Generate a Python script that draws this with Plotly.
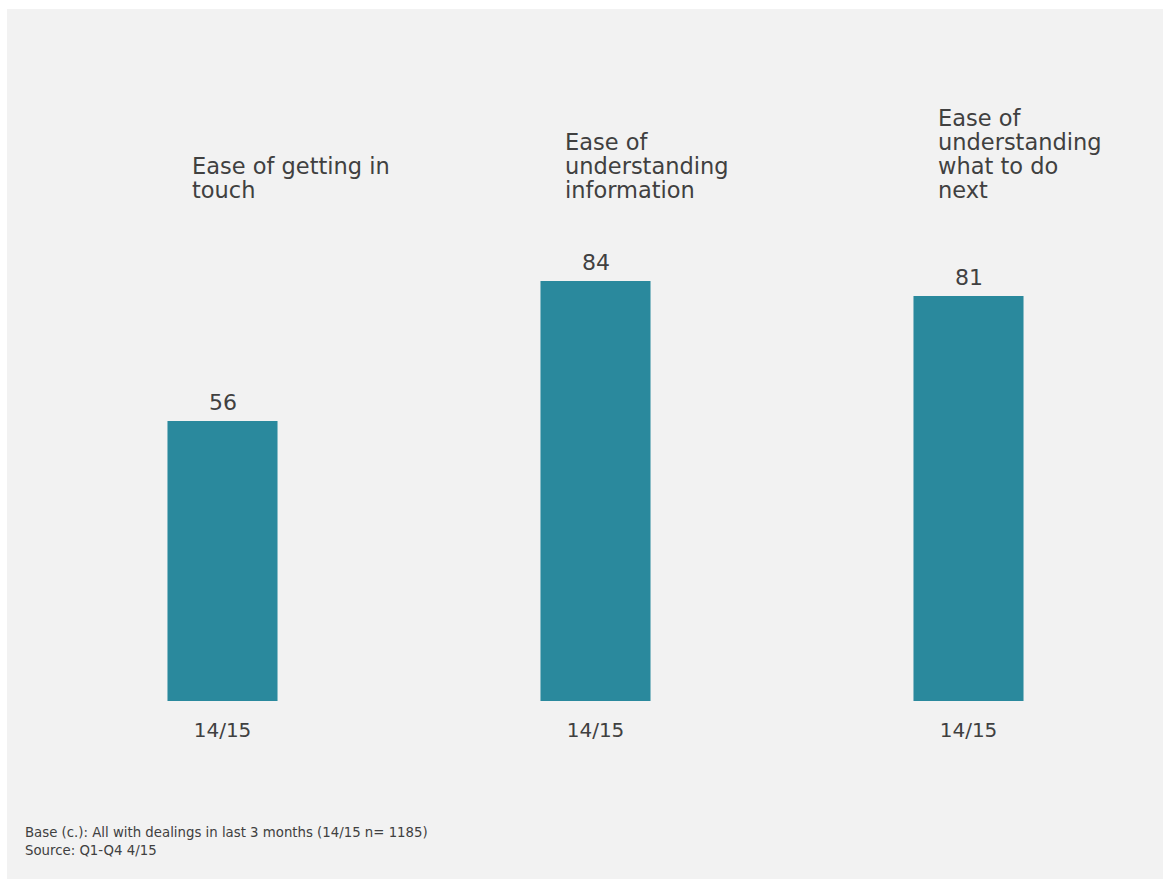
import plotly.graph_objects as go

# ---- data -------------------------------------------------------------
categories = [
    "Ease of getting in touch",
    "Ease of understanding information",
    "Ease of understanding what to do next",
]
title_lines = [
    ["Ease of getting in", "touch"],
    ["Ease of", "understanding", "information"],
    ["Ease of", "understanding", "what to do", "next"],
]
period_labels = ["14/15", "14/15", "14/15"]
scores = [56, 84, 81]
footnotes = [
    "Base (c.): All with dealings in last 3 months (14/15 n= 1185)",
    "Source: Q1-Q4 4/15",
]

# ---- layout constants --------------------------------------------------
W, H = 1163, 879
ML, MR, MT, MB = 36, 8, 101, 178
PW = W - ML - MR
PH = H - MT - MB
Y_MAX = 120

FONT = "DejaVu Sans"
TEXT = "#404040"
BAR = "#2A899D"
PANEL = "#F2F2F2"


def xp(px):
    """Pixel column -> paper x."""
    return (px - ML) / PW


def yp(py):
    """Pixel row -> paper y."""
    return (H - MB - py) / PH


xs = list(range(len(categories)))

fig = go.Figure(
    go.Bar(
        x=xs,
        y=scores,
        width=0.295,
        marker=dict(color=BAR, line=dict(width=0)),
        hovertext=categories,
        hoverinfo="text+y",
    )
)

annotations = []

# value labels above bars
for i, v in enumerate(scores):
    annotations.append(dict(
        x=i, y=v, xref="x", yref="y", text=str(v), showarrow=False,
        xanchor="center", yanchor="bottom", yshift=4,
        font=dict(family=FONT, size=22, color=TEXT),
    ))

# category titles, bottom-aligned, tight line spacing
LINE_GAP = 24
LAST_BASELINE = 199
for i, lines in enumerate(title_lines):
    n = len(lines)
    for k, line in enumerate(lines):
        baseline = LAST_BASELINE - (n - 1 - k) * LINE_GAP
        annotations.append(dict(
            x=i, y=yp(baseline + 6), xref="x", yref="paper", text=line,
            showarrow=False, xanchor="left", yanchor="bottom", xshift=-33,
            font=dict(family=FONT, size=22.5, color=TEXT),
        ))

# footnotes
for k, line in enumerate(footnotes):
    baseline = 838 + k * 17.5
    annotations.append(dict(
        x=xp(23), y=yp(baseline + 4), xref="paper", yref="paper", text=line,
        showarrow=False, xanchor="left", yanchor="bottom",
        font=dict(family=FONT, size=13.3, color=TEXT),
    ))

fig.update_layout(
    width=W, height=H,
    margin=dict(l=ML, r=MR, t=MT, b=MB, pad=0),
    paper_bgcolor="white",
    plot_bgcolor="rgba(0,0,0,0)",
    showlegend=False,
    annotations=annotations,
    shapes=[dict(
        type="rect", xref="paper", yref="paper", layer="below",
        x0=xp(7), x1=xp(W), y0=yp(H), y1=yp(9),
        fillcolor=PANEL, line=dict(width=0),
    )],
    xaxis=dict(
        range=[-0.5, len(categories) - 0.5],
        tickvals=xs, ticktext=period_labels,
        ticks="outside", ticklen=11, tickcolor="rgba(0,0,0,0)",
        showline=False, showgrid=False, zeroline=False,
        tickfont=dict(family=FONT, size=20, color=TEXT),
        fixedrange=True,
    ),
    yaxis=dict(range=[0, Y_MAX], visible=False, fixedrange=True),
)

fig.write_html("out.html")
